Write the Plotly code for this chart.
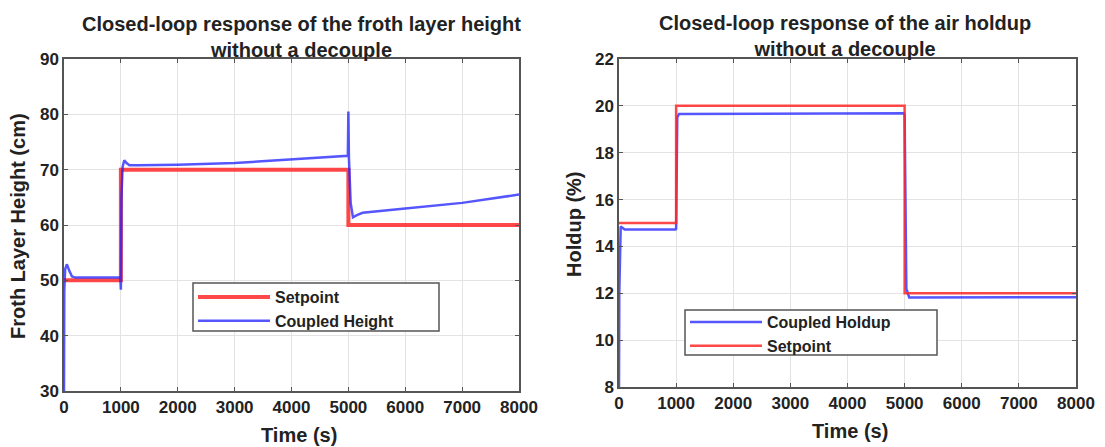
import plotly.graph_objects as go

# ---- data ----
sp_h_t = [0, 1000, 1000, 5000, 5000, 8000]
sp_h_v = [50, 50, 70, 70, 60, 60]

coup_h_t = [0, 5, 20, 50, 90, 140, 200, 500, 990, 1000, 1010, 1030, 1060, 1100, 1150,
            1300, 2000, 3000, 4000, 4500, 4990, 5000, 5010, 5040, 5080, 5150, 5250,
            6000, 7000, 8000]
coup_h_v = [30, 48, 52.0, 52.9, 51.8, 50.7, 50.5, 50.5, 50.5, 48.3, 65, 70.5, 71.7, 71.2, 70.8,
            70.8, 70.9, 71.2, 71.8, 72.1, 72.5, 80.5, 72, 64, 61.4, 61.8, 62.2,
            63.0, 64.0, 65.5]

sp_a_t = [0, 1000, 1000, 5000, 5000, 8000]
sp_a_v = [15, 15, 20, 20, 12, 12]

coup_a_t = [0, 5, 30, 100, 990, 1000, 1020, 1050, 4990, 5000, 5030, 5080, 8000]
coup_a_v = [8, 12, 14.85, 14.72, 14.72, 14.75, 19.5, 19.65, 19.68, 19.6, 12.2, 11.82, 11.83]

x_ticks = [0, 1000, 2000, 3000, 4000, 5000, 6000, 7000, 8000]
y1_ticks = [30, 40, 50, 60, 70, 80, 90]
y2_ticks = [8, 10, 12, 14, 16, 18, 20, 22]

RED = "rgba(255,40,40,0.85)"
BLUE = "rgba(30,30,255,0.75)"
FONT = "Liberation Sans, Arial, sans-serif"

fig = go.Figure()
fig.add_trace(go.Scatter(x=sp_h_t, y=sp_h_v, mode="lines", name="Setpoint",
                         line=dict(color=RED, width=4), xaxis="x", yaxis="y", legend="legend"))
fig.add_trace(go.Scatter(x=coup_h_t, y=coup_h_v, mode="lines", name="Coupled Height",
                         line=dict(color=BLUE, width=2.5), xaxis="x", yaxis="y", legend="legend"))
fig.add_trace(go.Scatter(x=coup_a_t, y=coup_a_v, mode="lines", name="Coupled Holdup",
                         line=dict(color=BLUE, width=2.5), xaxis="x2", yaxis="y2", legend="legend2"))
fig.add_trace(go.Scatter(x=sp_a_t, y=sp_a_v, mode="lines", name="Setpoint",
                         line=dict(color=RED, width=2.5), xaxis="x2", yaxis="y2", legend="legend2"))

W, H = 1105, 447
axcommon = dict(showgrid=True, gridcolor="#e3e3e3", gridwidth=1, showline=True,
                linecolor="#555", linewidth=1.5, mirror="ticks", ticks="inside",
                ticklen=4, tickcolor="#555", zeroline=False, automargin=False,
                tickfont=dict(family=FONT, size=17, color="#222", weight="bold"))

legcommon = dict(xanchor="left", yanchor="top", bgcolor="rgba(0,0,0,0)",
                 borderwidth=0, font=dict(family=FONT, size=16, color="#222", weight="bold"),
                 itemwidth=72, tracegroupgap=0)

fig.update_layout(
    template="none",
    width=W, height=H, margin=dict(l=0, r=0, t=0, b=0),
    paper_bgcolor="white", plot_bgcolor="white",
    font=dict(family=FONT, color="#222"),
    xaxis=dict(domain=[64 / W, 519 / W], range=[0, 8000], tickvals=x_ticks, anchor="y", **axcommon),
    yaxis=dict(domain=[1 - 391 / H, 1 - 59 / H], range=[30, 90], tickvals=y1_ticks, anchor="x", **axcommon),
    xaxis2=dict(domain=[619 / W, 1076 / W], range=[0, 8000], tickvals=x_ticks, anchor="y2", **axcommon),
    yaxis2=dict(domain=[1 - 387 / H, 1 - 59 / H], range=[8, 22], tickvals=y2_ticks, anchor="x2", **axcommon),
    legend=dict(x=193 / W, y=1 - 280 / H, **legcommon),
    legend2=dict(x=685 / W, y=1 - 305 / H, **legcommon),
    showlegend=True,
)

# legend frames (wider than Plotly's auto-sized legend box, as in the reference)
for (x0, x1, y0, y1) in [(193, 439, 283, 331), (685, 937, 310, 355)]:
    fig.add_shape(type="rect", xref="paper", yref="paper",
                  x0=x0 / W, x1=x1 / W, y0=1 - y1 / H, y1=1 - y0 / H,
                  fillcolor="white", line=dict(color="#555", width=1.5), layer="above")

ann = []
tfont = dict(family=FONT, size=20, color="#222", weight="bold")
afont = dict(family=FONT, size=20, color="#222", weight="bold")
ann.append(dict(text="Closed-loop response of the froth layer height<br>without a decouple",
                x=301 / W, y=1 - 37 / H, xref="paper", yref="paper", showarrow=False,
                font=tfont, xanchor="center", yanchor="middle"))
ann.append(dict(text="Closed-loop response of the air holdup<br>without a decouple",
                x=845 / W, y=1 - 36 / H, xref="paper", yref="paper", showarrow=False,
                font=tfont, xanchor="center", yanchor="middle"))
ann.append(dict(text="Time (s)", x=299 / W, y=1 - 435 / H, xref="paper", yref="paper",
                showarrow=False, font=afont, xanchor="center", yanchor="middle"))
ann.append(dict(text="Time (s)", x=850 / W, y=1 - 431 / H, xref="paper", yref="paper",
                showarrow=False, font=afont, xanchor="center", yanchor="middle"))
ann.append(dict(text="Froth Layer Height (cm)", x=18 / W, y=1 - 226 / H, xref="paper", yref="paper",
                showarrow=False, font=afont, textangle=-90, xanchor="center", yanchor="middle"))
ann.append(dict(text="Holdup (%)", x=574 / W, y=1 - 224 / H, xref="paper", yref="paper",
                showarrow=False, font=afont, textangle=-90, xanchor="center", yanchor="middle"))
fig.update_layout(annotations=ann)

fig.write_html("out.html")
